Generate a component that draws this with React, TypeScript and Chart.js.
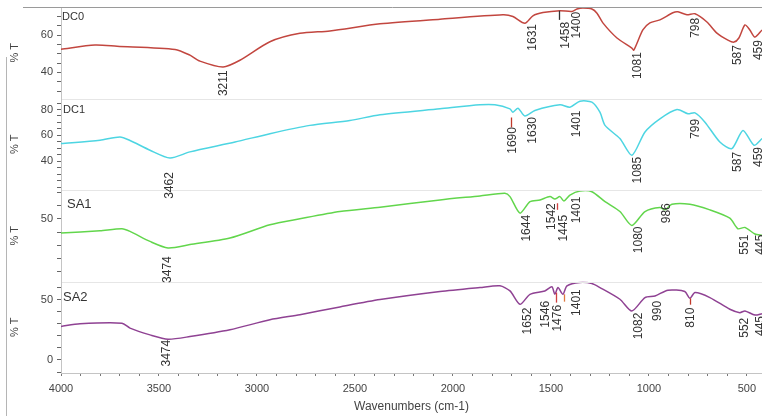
import React, { useEffect, useRef } from 'react';
import { Chart, registerables } from 'chart.js';

Chart.register(...registerables);

// ---- data ----
const xTickLabels = [4000, 3500, 3000, 2500, 2000, 1500, 1000, 500];

const dc0Wn = [4000, 3827, 3714, 3418, 3342, 3291, 3173, 3087, 2934, 2781, 2628, 2372, 2066, 1745, 1694, 1633, 1592, 1541, 1454, 1393, 1367, 1337, 1291, 1265, 1235, 1163, 1087, 1077, 1031, 995, 944, 878, 852, 806, 765, 704, 653, 597, 566, 541, 510, 485, 459, 423];
const dc0T = [52.4, 54.6, 54, 52.3, 49.2, 46, 42.9, 46.5, 56.4, 60.9, 62.2, 66, 68.5, 70.8, 69.9, 66.3, 70.3, 72, 73, 72.6, 73.9, 74.4, 73.9, 71.7, 66.5, 58.4, 53, 51.9, 62.7, 66.5, 68.1, 71.9, 72.4, 70.8, 71.4, 67, 61, 57.3, 56.2, 58.4, 65.4, 62.7, 58.9, 62.7];

const dc1Wn = [4000, 3801, 3699, 3648, 3546, 3444, 3342, 3112, 2934, 2730, 2526, 2372, 2066, 1862, 1786, 1709, 1694, 1668, 1633, 1582, 1454, 1403, 1352, 1291, 1250, 1224, 1148, 1087, 1020, 944, 857, 801, 765, 714, 638, 577, 520, 464, 423];
const dc1T = [53.6, 56.2, 58.7, 56, 48.5, 42.5, 47.2, 54.8, 61.3, 67.7, 71.5, 75.9, 80.5, 83.6, 83.6, 80.5, 77.9, 81, 74.9, 79.2, 83.6, 81.8, 86.4, 85.7, 77.9, 67.7, 57.5, 44.6, 62.6, 72.8, 80, 76.7, 77.4, 70.2, 54.8, 49.7, 63.8, 52.3, 57.5];

const sa1Wn = [4000, 3801, 3689, 3648, 3546, 3454, 3342, 3138, 2934, 2781, 2577, 2372, 2066, 1862, 1735, 1709, 1658, 1607, 1556, 1505, 1480, 1454, 1434, 1403, 1352, 1291, 1224, 1148, 1087, 1020, 944, 918, 883, 791, 689, 587, 546, 510, 459, 423];
const sa1T = [39.2, 41, 42.5, 40.5, 32.9, 28, 30.5, 35.5, 45.5, 50, 55.5, 58.8, 64.3, 67.3, 69.3, 66.8, 54.3, 63, 64.3, 66.8, 65, 66.8, 63.5, 68, 71, 70.5, 63, 55.5, 45, 55.5, 58.5, 56.8, 61, 61, 56.8, 50.5, 42.5, 43.5, 38.5, 37.5];

const sa2Wn = [4000, 3903, 3689, 3648, 3546, 3454, 3342, 3138, 2934, 2781, 2577, 2372, 2066, 1862, 1760, 1709, 1658, 1607, 1531, 1495, 1480, 1464, 1439, 1418, 1352, 1291, 1250, 1148, 1087, 1020, 969, 903, 817, 791, 765, 689, 587, 536, 510, 459, 423];
const sa2T = [27.8, 30, 30.5, 26.4, 20.8, 17.2, 19.4, 25, 33.3, 37.5, 43.9, 50, 56.7, 60, 61.4, 57.2, 46.1, 54.4, 57.2, 60.6, 54.4, 60, 54.4, 61.4, 64.2, 63.3, 60, 50.3, 40.6, 51.7, 53, 57.8, 56.7, 51.1, 55.8, 51.7, 42, 39.2, 40.6, 37.2, 38.3];

// peak labels: [text, wavenumber, top of text in %T]
const dc0Peaks: [string, number, number][] = [['3211', 3168, 41.1], ['1631', 1593, 65.9], ['1458', 1423, 67], ['1400', 1367, 72.4], ['1081', 1056, 50.8], ['798', 760, 69.2], ['587', 547, 54.6], ['459', 439, 57.3]];
const dc1Peaks: [string, number, number][] = [['3462', 3444, 31.5], ['1690', 1696, 66.4], ['1630', 1592, 74.2], ['1401', 1369, 79.2], ['1085', 1056, 43.4], ['799', 760, 72.8], ['587', 547, 47.2], ['459', 439, 51]];
const sa1Peaks: [string, number, number][] = [['3474', 3454, 21.7], ['1644', 1622, 53], ['1542', 1497, 61.8], ['1445', 1434, 53], ['1401', 1369, 66.8], ['1080', 1050, 44.2], ['986', 910, 61.8], ['551', 510, 38], ['445', 430, 38]];
const sa2Peaks: [string, number, number][] = [['3474', 3461, 16.7], ['1652', 1621, 43.3], ['1546', 1526, 48.9], ['1476', 1468, 45.6], ['1401', 1369, 58.6], ['1082', 1050, 39.2], ['990', 953, 48.9], ['810', 787, 43.3], ['552', 510, 35], ['445', 430, 36.4]];

// small marker strokes: [wavenumber, top, bottom, colour]
const dc0Marks: [number, number, number, string][] = [[1459, 73, 68.1, '#333333']];
const dc1Marks: [number, number, number, string][] = [[1704, 73.8, 66.2, '#c0392b']];
const sa1Marks: [number, number, number, string][] = [[1471, 61.8, 56.8, '#d04040']];
const sa2Marks: [number, number, number, string][] = [[1475, 55.8, 47.5, '#d04040'], [1434, 54.4, 48.3, '#e07a40'], [791, 51.1, 45.8, '#c0392b']];

const dc0TickLabels = [40, 60];
const dc1TickLabels = [40, 60, 80];
const sa1TickLabels = [50];
const sa2TickLabels = [0, 50];

// ---- panel setup ----
const panels = [
  { name: 'DC0', wn: dc0Wn, t: dc0T, peaks: dc0Peaks, marks: dc0Marks, labels: dc0TickLabels, color: '#c2463f', min: 26, max: 75, step: 5, tdx: 1, tdy: 10, tsize: 11 },
  { name: 'DC1', wn: dc1Wn, t: dc1T, peaks: dc1Peaks, marks: dc1Marks, labels: dc1TickLabels, color: '#4dd5e2', min: 17.7, max: 88.5, step: 5, tdx: 2, tdy: 11, tsize: 11 },
  { name: 'SA1', wn: sa1Wn, t: sa1T, peaks: sa1Peaks, marks: sa1Marks, labels: sa1TickLabels, color: '#62d64c', min: 2.6, max: 71.8, step: 10, tdx: 6, tdy: 14, tsize: 13 },
  { name: 'SA2', wn: sa2Wn, t: sa2T, peaks: sa2Peaks, marks: sa2Marks, labels: sa2TickLabels, color: '#8f4293', min: -10.8, max: 65, step: 10, tdx: 2, tdy: 16, tsize: 13 },
];

const FONT = "'Liberation Sans', Arial, sans-serif";

const irPlugin = {
  id: 'irAnnotations',
  afterDraw(chart: any) {
    const ctx = chart.ctx as CanvasRenderingContext2D;
    const area = chart.chartArea;
    const xs = chart.scales.x;
    ctx.save();
    // frame lines
    ctx.lineWidth = 1;
    ctx.strokeStyle = '#9a9a9a';
    ctx.beginPath();
    ctx.moveTo(23, Math.round(area.top) + 0.5);
    ctx.lineTo(chart.width, Math.round(area.top) + 0.5);
    ctx.stroke();
    ctx.strokeStyle = '#b5b5b5';
    ctx.beginPath();
    ctx.moveTo(6.5, 57);
    ctx.lineTo(6.5, chart.height);
    ctx.stroke();
    // separators
    ctx.strokeStyle = '#e6e6e6';
    for (let i = 1; i < panels.length; i++) {
      const y = Math.round(chart.scales['y' + i].top) + 0.5;
      ctx.beginPath();
      ctx.moveTo(area.left + 1, y);
      ctx.lineTo(area.right, y);
      ctx.stroke();
    }
    panels.forEach((p, i) => {
      const ys = chart.scales['y' + i];
      // title
      ctx.fillStyle = '#333';
      ctx.font = `${p.tsize}px ${FONT}`;
      ctx.textAlign = 'left';
      ctx.textBaseline = 'middle';
      ctx.fillText(p.name, area.left + p.tdx, ys.top + p.tdy);
      // marker strokes
      p.marks.forEach(([w, a, b, c]) => {
        const x = Math.round(xs.getPixelForValue(w)) + 0.5;
        ctx.strokeStyle = c;
        ctx.lineWidth = 1.3;
        ctx.beginPath();
        ctx.moveTo(x, ys.getPixelForValue(a));
        ctx.lineTo(x, ys.getPixelForValue(b));
        ctx.stroke();
      });
      // peak labels
      ctx.fillStyle = '#333';
      ctx.font = `12px ${FONT}`;
      p.peaks.forEach(([text, w, top]) => {
        const x = xs.getPixelForValue(w);
        const y = ys.getPixelForValue(top);
        ctx.save();
        ctx.translate(x, y);
        ctx.rotate(-Math.PI / 2);
        ctx.textAlign = 'right';
        ctx.textBaseline = 'middle';
        ctx.fillText(text, 0, 0);
        ctx.restore();
      });
    });
    ctx.restore();
  },
};

export default function App() {
  const ref = useRef<HTMLCanvasElement>(null);
  useEffect(() => {
    Chart.defaults.font.family = FONT;
    const scales: any = {
      x: {
        type: 'linear',
        reverse: true,
        min: 423,
        max: 4000,
        ticks: {
          stepSize: 100,
          autoSkip: false,
          maxRotation: 0,
          includeBounds: false,
          color: '#444',
          font: { size: 11 },
          padding: 6,
          callback: (v: any) => (xTickLabels.includes(Number(v)) ? String(v) : ''),
        },
        grid: { drawOnChartArea: false, drawTicks: true, tickLength: 3, color: '#777' },
        border: { color: '#c4c4c4' },
        title: { display: true, text: 'Wavenumbers (cm-1)', color: '#444', font: { size: 12 }, padding: { top: 0, bottom: 2 } },
        afterFit: (s: any) => {
          s.height = 43;
          s.paddingLeft = 0;
          s.paddingRight = 0;
          s.paddingTop = 0;
          s.paddingBottom = 0;
        },
      },
    };
    panels.forEach((p, i) => {
      scales['y' + i] = {
        type: 'linear',
        position: 'left',
        stack: 'ir',
        stackWeight: 1,
        weight: panels.length - i,
        min: p.min,
        max: p.max,
        ticks: {
          stepSize: p.step,
          autoSkip: false,
          includeBounds: false,
          color: '#444',
          font: { size: 11 },
          padding: 4,
          callback: (v: any) => (p.labels.includes(Number(v)) ? String(v) : ''),
        },
        grid: { drawOnChartArea: false, drawTicks: true, tickLength: 4, color: '#666' },
        border: { color: '#c4c4c4' },
        title: { display: true, text: '% T', color: '#444', font: { size: 11 }, padding: { top: 8, bottom: 0 } },
        afterFit: (s: any) => {
          s.width = 61;
          s.paddingTop = 0;
          s.paddingBottom = 0;
          s.paddingLeft = 0;
          s.paddingRight = 0;
        },
      };
    });
    const chart = new Chart(ref.current as HTMLCanvasElement, {
      type: 'line',
      data: {
        datasets: panels.map((p, i) => ({
          label: p.name,
          data: p.wn.map((w, k) => ({ x: w, y: p.t[k] })),
          borderColor: p.color,
          borderWidth: 1.5,
          pointRadius: 0,
          tension: 0.25,
          fill: false,
          yAxisID: 'y' + i,
        })),
      },
      options: {
        animation: false,
        responsive: false,
        devicePixelRatio: 1,
        layout: { padding: { top: 7, left: 0, right: 0, bottom: 0 } },
        plugins: { legend: { display: false }, tooltip: { enabled: false } },
        scales,
      } as any,
      plugins: [irPlugin],
    });
    return () => chart.destroy();
  }, []);
  return (
    <div style={{ position: 'fixed', left: 0, top: 0, width: 762, height: 416, background: '#fff' }}>
      <canvas ref={ref} width={762} height={416} style={{ display: 'block', width: 762, height: 416 }} />
    </div>
  );
}
